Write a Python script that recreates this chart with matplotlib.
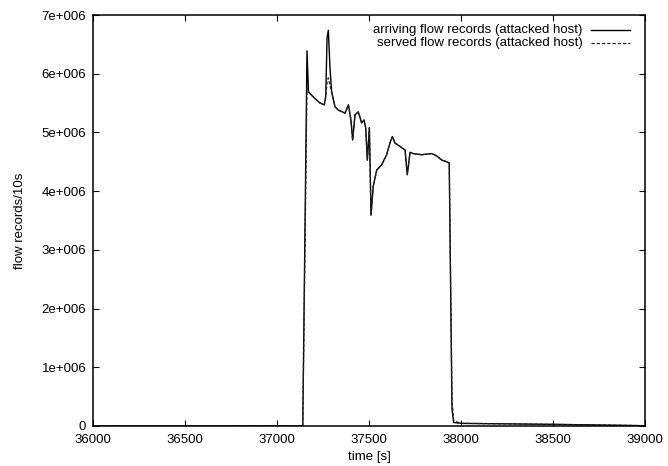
import matplotlib
matplotlib.use("Agg")
import matplotlib.pyplot as plt
from matplotlib.ticker import FuncFormatter, MultipleLocator

plt.rcParams["font.family"] = ["Liberation Sans", "DejaVu Sans"]
plt.rcParams["font.size"] = 9.5

# time [s] of each sample
time = [36000, 37140, 37163, 37171, 37189, 37216, 37234, 37257, 37265, 37272,
        37279, 37288, 37297, 37315, 37333, 37370, 37388, 37402, 37411, 37424,
        37442, 37460, 37473, 37482, 37491, 37502, 37511, 37523, 37542, 37569,
        37596, 37614, 37627, 37641, 37669, 37696, 37708, 37723, 37741, 37786,
        37841, 37868, 37895, 37922, 37936, 37951, 37960, 38000, 38200, 38500,
        38800, 39000]

# flow records per 10 s arriving at the attacked host
arriving = [0, 0, 6.39e6, 5.69e6, 5.63e6, 5.55e6, 5.50e6, 5.47e6, 5.62e6, 6.61e6,
            6.74e6, 6.10e6, 5.69e6, 5.44e6, 5.38e6, 5.33e6, 5.47e6, 5.21e6, 4.87e6, 5.30e6,
            5.35e6, 5.16e6, 5.21e6, 5.08e6, 4.53e6, 5.08e6, 3.59e6, 4.08e6, 4.36e6, 4.45e6,
            4.62e6, 4.82e6, 4.93e6, 4.82e6, 4.76e6, 4.70e6, 4.28e6, 4.66e6, 4.64e6, 4.62e6,
            4.64e6, 4.60e6, 4.53e6, 4.50e6, 4.48e6, 0.30e6, 0.06e6, 0.045e6, 0.038e6, 0.028e6,
            0.015e6, 0.005e6]

# flow records per 10 s served for the attacked host
served = [0, 0, 5.76e6, 5.69e6, 5.63e6, 5.55e6, 5.50e6, 5.47e6, 5.60e6, 5.85e6,
          5.93e6, 5.80e6, 5.69e6, 5.44e6, 5.38e6, 5.33e6, 5.47e6, 5.21e6, 4.87e6, 5.30e6,
          5.35e6, 5.16e6, 5.21e6, 5.08e6, 4.53e6, 5.08e6, 3.59e6, 4.08e6, 4.36e6, 4.45e6,
          4.62e6, 4.82e6, 4.93e6, 4.82e6, 4.76e6, 4.70e6, 4.28e6, 4.66e6, 4.64e6, 4.62e6,
          4.64e6, 4.60e6, 4.53e6, 4.50e6, 4.48e6, 0.45e6, 0.09e6, 0.045e6, 0.038e6, 0.028e6,
          0.015e6, 0.005e6]

labels = ["arriving flow records (attacked host)",
          "served flow records (attacked host)"]

fig = plt.figure(figsize=(6.68, 4.66), dpi=100)
ax = fig.add_axes([93 / 668, 1 - 426 / 466, 552 / 668, 411 / 466])

solid = dict(color="black", lw=1.0)
dashed = dict(color="#222222", lw=0.9, dashes=(2.6, 1.6))

ax.plot(time, arriving, **solid)
ax.plot(time, served, **dashed)

ax.set_xlim(36000, 39000)
ax.set_ylim(0, 7e6)
ax.xaxis.set_major_locator(MultipleLocator(500))
ax.yaxis.set_major_locator(MultipleLocator(1e6))


def sci_label(v, pos):
    if v == 0:
        return "0"
    return f"{v / 1e6:g}e+006"


ax.yaxis.set_major_formatter(FuncFormatter(sci_label))
ax.tick_params(direction="in", length=4.2, width=0.8, top=True, right=True,
               colors="black", labelsize=9.5)
ax.tick_params(axis="y", pad=4.8)
ax.tick_params(axis="x", pad=5.5)
for s in ax.spines.values():
    s.set_linewidth(1.1)

ax.set_xlabel("time [s]", labelpad=4)
ax.set_ylabel("flow records/10s", labelpad=11)

# key, gnuplot style: right-aligned text followed by a line sample
rows_y = [0.963, 0.932]
styles = [solid, dashed]
for lab, yy, st in zip(labels, rows_y, styles):
    ax.text(0.887, yy, lab, transform=ax.transAxes, ha="right", va="center")
    ax.plot([0.903, 0.973], [yy, yy], transform=ax.transAxes, clip_on=False, **st)

fig.savefig("out.png", dpi=100)
